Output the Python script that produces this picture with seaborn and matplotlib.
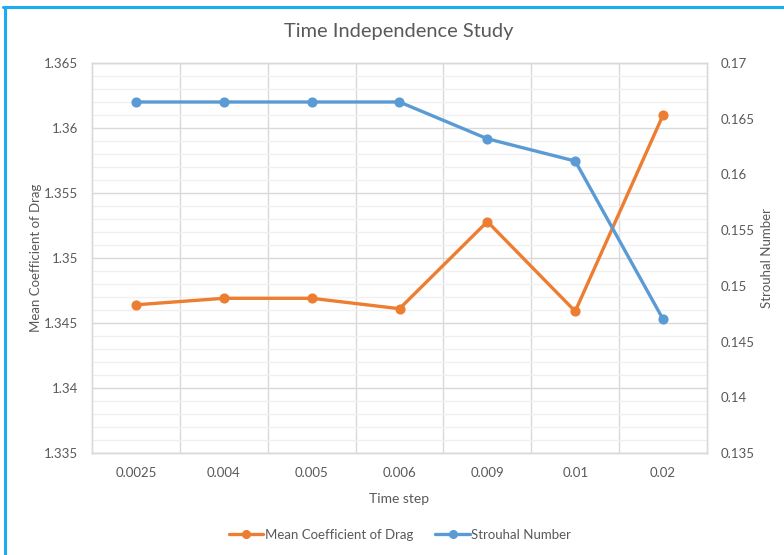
import matplotlib
matplotlib.use("Agg")
import matplotlib.pyplot as plt
from matplotlib.lines import Line2D
from matplotlib.ticker import FixedLocator, FuncFormatter, MultipleLocator
import numpy as np
import pandas as pd
import seaborn as sns

# Time-step study: drag coefficient (left axis) and Strouhal number (right axis)
time_steps = ["0.0025", "0.004", "0.005", "0.006", "0.009", "0.01", "0.02"]
mean_cd = [1.3464, 1.3469, 1.3469, 1.3461, 1.3528, 1.3459, 1.3610]
strouhal = [0.1665, 0.1665, 0.1665, 0.1665, 0.1632, 0.1612, 0.1470]

cd_ticks = [1.335, 1.34, 1.345, 1.35, 1.355, 1.36, 1.365]
st_ticks = [0.135, 0.14, 0.145, 0.15, 0.155, 0.16, 0.165, 0.17]

ORANGE = "#ED7D31"
BLUE = "#5B9BD5"
TEXT = "#595959"
GRID = "#D9D9D9"
MINOR = "#F0F0F0"

sns.set_theme(style="white")
plt.rcParams["font.family"] = ["Lato", "DejaVu Sans"]

df = pd.DataFrame({"step": time_steps, "cd": mean_cd, "st": strouhal})

W, H = 784, 555
fig = plt.figure(figsize=(W / 100, H / 100), dpi=100)
ax = fig.add_axes([92 / W, 102 / H, 615 / W, 390 / H])
ax2 = ax.twinx()

sns.pointplot(data=df, x="step", y="cd", order=time_steps, color=ORANGE,
              markers="o", linestyles="-", linewidth=2.4, markersize=5.5,
              ax=ax, zorder=3)
sns.pointplot(data=df, x="step", y="st", order=time_steps, color=BLUE,
              markers="o", linestyles="-", linewidth=2.4, markersize=5.5,
              ax=ax2, zorder=3)

n = len(time_steps)
for a in (ax, ax2):
    a.set_xlim(-0.5, n - 0.5)
    a.set_xlabel("")
    a.set_ylabel("")

# Left axis: drag coefficient
ax.set_ylim(cd_ticks[0], cd_ticks[-1])
ax.yaxis.set_major_locator(FixedLocator(cd_ticks))
ax.yaxis.set_minor_locator(MultipleLocator(0.001))
ax.yaxis.set_major_formatter(FuncFormatter(lambda v, p: f"{v:.5g}"))

# Right axis: Strouhal number
ax2.set_ylim(st_ticks[0], st_ticks[-1])
ax2.yaxis.set_major_locator(FixedLocator(st_ticks))
ax2.yaxis.set_major_formatter(FuncFormatter(lambda v, p: f"{v:.4g}"))

# Category boundaries as vertical grid lines
ax.xaxis.set_minor_locator(FixedLocator(np.arange(0.5, n - 1, 1.0)))

ax.set_axisbelow(True)
ax.grid(False)
ax.yaxis.grid(True, which="minor", color=MINOR, linewidth=1.0)
ax.yaxis.grid(True, which="major", color=GRID, linewidth=1.0)
ax.xaxis.grid(True, which="minor", color=GRID, linewidth=1.0)
ax2.grid(False)
ax2.patch.set_visible(False)

for a in (ax, ax2):
    for s in a.spines.values():
        s.set_color(GRID)
        s.set_linewidth(1.0)
    a.tick_params(axis="both", which="both", length=0, colors=TEXT, labelsize=9.5)

ax.tick_params(axis="y", pad=10)
ax2.tick_params(axis="y", pad=9.5)
ax.tick_params(axis="x", pad=10)

ax.set_ylabel("Mean Coefficient of Drag", color=TEXT, fontsize=9.5, va="center")
ax.yaxis.set_label_coords((36 - 92) / 615, 0.5)
ax2.set_ylabel("Strouhal Number", color=TEXT, fontsize=9.5, va="center")
ax2.yaxis.set_label_coords((767 - 92) / 615, 0.5)
ax.set_xlabel("Time step", color=TEXT, fontsize=10, labelpad=10)

fig.text(399 / W, 1 - 32 / H, "Time Independence Study", ha="center", va="center",
         color=TEXT, fontsize=14.4)

handles = [
    Line2D([], [], color=ORANGE, linewidth=2.4, marker="o", markersize=5.5),
    Line2D([], [], color=BLUE, linewidth=2.4, marker="o", markersize=5.5),
]
fig.legend(handles, ["Mean Coefficient of Drag", "Strouhal Number"],
           loc="center", bbox_to_anchor=(400 / W, 1 - 535 / H), ncol=2,
           frameon=False, fontsize=9.5, labelcolor=TEXT, handlelength=2.6,
           handletextpad=0.1, columnspacing=1.7)

# Selection frame along the top and left edges of the chart
fig.add_artist(Line2D([3 / W, 1.0], [1 - 7 / H, 1 - 7 / H],
                      transform=fig.transFigure, color="#1AAEEF", linewidth=2.2))
fig.add_artist(Line2D([5 / W, 5 / W], [0.0, 1 - 7 / H],
                      transform=fig.transFigure, color="#1AAEEF", linewidth=2.2))

fig.savefig("out.png", dpi=100, facecolor="white")
